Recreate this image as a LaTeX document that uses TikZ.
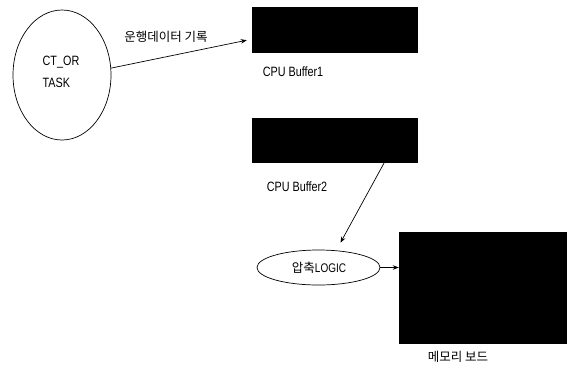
\documentclass[tikz,border=0pt]{standalone}
\usepackage{fontspec}
\setmainfont[FakeStretch=0.8]{Liberation Sans}
\newfontfamily\kr{Noto Sans CJK KR}
\usetikzlibrary{shapes.geometric,arrows.meta,calc}
\begin{document}
\begin{tikzpicture}[x=1pt,y=-1pt,
  txt/.style={font=\fontsize{13.5}{15}\selectfont, inner sep=0pt},
  krtxt/.style={font=\kr\fontsize{12.5}{15}\selectfont, inner sep=0pt},
  blackbox/.style={fill=black, draw=black, inner sep=0pt},
  oval/.style={ellipse, draw=black, line width=0.7pt, inner sep=0pt},
  arr/.style={draw=black, line width=0.7pt, -{Stealth[length=6pt,width=4.5pt]}}]
  \useasboundingbox (0,0) rectangle (571,368);

  % task ellipse
  \node[oval, minimum width=98pt, minimum height=130pt] (task) at (62,75) {};
  \node[txt, align=left] (tasktxt) at (61,72) {CT\_OR\\[7pt]TASK};

  % buffers
  \node[blackbox, minimum width=165pt, minimum height=45pt] (buf1) at (334.5,29.5) {};
  \node[txt] (buf1lbl) at (293,72) {CPU Buffer1};
  \node[blackbox, minimum width=165pt, minimum height=44pt] (buf2) at (334.5,140) {};
  \node[txt] (buf2lbl) at (297,187) {CPU Buffer2};

  % compression logic
  \node[oval, minimum width=123pt, minimum height=35pt] (logic) at (318.5,267.5) {};
  \node[krtxt] (logictxt) at (319,268) {압축{\fontspec[FakeStretch=0.8]{Liberation Sans}LOGIC}};

  % memory board
  \node[blackbox, minimum width=167pt, minimum height=111pt] (mem) at (482.5,287.5) {};
  \node[krtxt] (memlbl) at (458,357) {메모리 보드};

  % connectors
  \coordinate (t1) at ($(buf1.south west)+(-5,-12)$);
  \draw[arr] (task.8) -- (t1);
  \node[krtxt] (reclbl) at (166,37) {운행데이터 기록};
  \draw[arr] ([xshift=50pt]buf2.south) -- ([xshift=22pt,yshift=7pt]logic.north);
  \draw[arr] (logic.east) -- (logic.east -| mem.west);
\end{tikzpicture}
\end{document}
